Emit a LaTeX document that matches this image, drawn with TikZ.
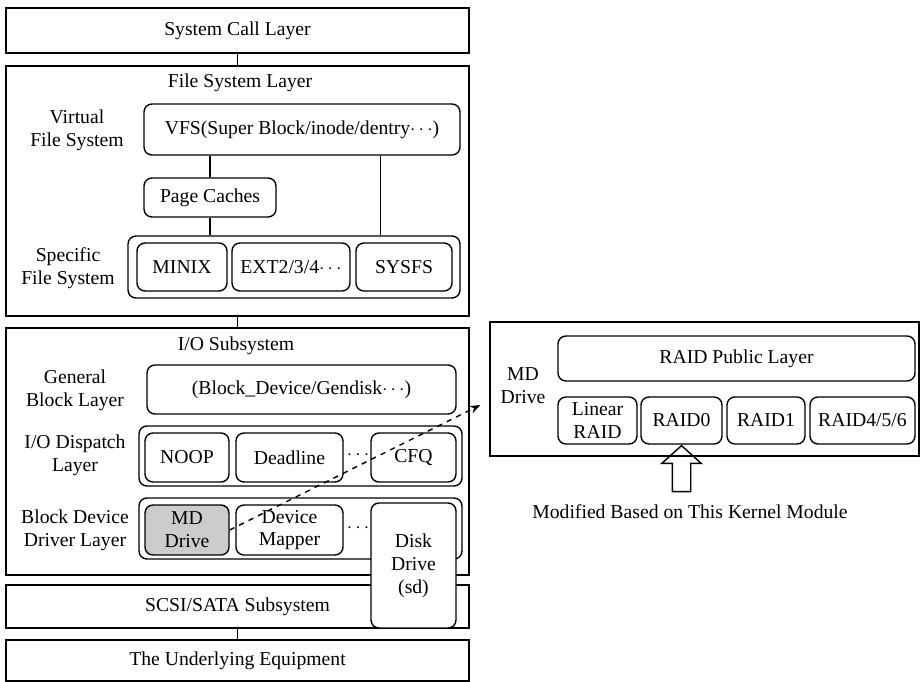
\documentclass[tikz,border=0pt]{standalone}
\usepackage{fontspec}
\setmainfont{Liberation Serif}
\usetikzlibrary{shapes.arrows,arrows.meta}

\begin{document}
\begin{tikzpicture}[x=0.02cm,y=-0.02cm,line width=0.8pt,
font=\fontsize{11.2}{13}\selectfont,
layer/.style={draw,rectangle,inner sep=0pt,minimum width=9.26cm},
unit/.style={draw,rounded corners=4.5pt,align=center,inner sep=0pt},
group/.style={draw,rounded corners=4.5pt,inner sep=0pt},
side/.style={align=center,inner sep=0pt}]
%\draw[help lines] (0,0) grid[step=50] (920,682);
\useasboundingbox (0,0) rectangle (920,682);

% system call + file system
\node (SysCall) [layer,minimum height=0.9cm] at (237.5,30.5) {System Call Layer};
\node (FsLayer) [layer,minimum height=5cm] at (237.5,191) {};
\node (FsTitle) [side] at (240,83) {File System Layer};
\node (VfsLabel) [side] at (77,130) {Virtual\\File System};
\node (Vfs) [unit,minimum width=6.32cm,minimum height=1.02cm] at (302,129.5) {VFS(Super Block/inode/dentry$\cdots$)};
\node (Cache) [unit,minimum width=2.64cm,minimum height=0.78cm] at (210,197.5) {Page Caches};
\node (SfsLabel) [side] at (68,268) {Specific\\File System};
\node (Sfs) [group,minimum width=6.64cm,minimum height=1.24cm] at (294,267) {};
\node (Minix) [unit,minimum width=1.8cm,minimum height=0.96cm] at (182,267) {MINIX};
\node (Ext) [unit,minimum width=2.36cm,minimum height=0.96cm] at (291,267) {EXT2/3/4$\cdots$};
\node (Sysfs) [unit,minimum width=1.92cm,minimum height=0.96cm] at (404,267) {SYSFS};

% i/o subsystem
\node (IoSub) [layer,minimum height=4.94cm] at (237.5,451.5) {};
\node (IoTitle) [side] at (236,346) {I/O Subsystem};
\node (GenLabel) [side] at (75,390) {General\\Block Layer};
\node (GenBlock) [unit,minimum width=6.18cm,minimum height=0.98cm] at (301.5,389.5) {(Block\_Device/Gendisk$\cdots$)};
\node (DispLabel) [side] at (75,455) {I/O Dispatch\\Layer};
\node (Dispatch) [group,minimum width=6.46cm,minimum height=1.2cm] at (300.5,456) {};
\node (Noop) [unit,minimum width=1.68cm,minimum height=0.98cm] at (187,457.5) {NOOP};
\node (Deadline) [unit,minimum width=2.14cm,minimum height=0.98cm] at (289.5,457.5) {Deadline};
\node (DispDots) [side] at (358,455) {$\cdots$};
\node (Cfq) [unit,minimum width=1.7cm,minimum height=0.98cm] at (413.5,457.5) {CFQ};
\node (DrvLabel) [side] at (75,530) {Block Device\\Driver Layer};
\node (Driver) [group,minimum width=6.46cm,minimum height=1.22cm] at (300.5,528.5) {};
\node (MdNode) [unit,fill=black!20,minimum width=1.68cm,minimum height=1cm] at (187,530) {MD\\Drive};
\node (DevMap) [unit,minimum width=2.14cm,minimum height=1cm] at (289.5,530) {Device\\Mapper};
\node (DrvDots) [side] at (358,528) {$\cdots$};

% bottom layers
\node (Scsi) [layer,minimum height=0.86cm] at (237.5,606.5) {SCSI/SATA Subsystem};
\node (Equip) [layer,minimum height=0.82cm] at (237.5,660.5) {The Underlying Equipment};
\node (Disk) [unit,fill=white,minimum width=1.7cm,minimum height=2.5cm] at (413.5,565.5) {Disk\\Drive\\(sd)};

% md drive module
\node (MdBox) [layer,minimum width=8.58cm,minimum height=2.68cm] at (704.5,389) {};
\node (MdLabel) [side] at (523,386) {MD\\Drive};
\node (Public) [unit,minimum width=7.14cm,minimum height=0.9cm] at (736.5,358.5) {RAID Public Layer};
\node (Linear) [unit,minimum width=1.58cm,minimum height=0.94cm] at (597.5,420.5) {Linear\\RAID};
\node (Raid0) [unit,minimum width=1.62cm,minimum height=0.94cm] at (681.5,420.5) {RAID0};
\node (Raid1) [unit,minimum width=1.56cm,minimum height=0.94cm] at (766,420.5) {RAID1};
\node (Raid456) [unit,minimum width=2.1cm,minimum height=0.94cm] at (862.5,420.5) {RAID4/5/6};
\node (UpArrow) [draw,single arrow,shape border rotate=90,inner sep=0.17cm,
  minimum height=0.92cm,single arrow head extend=0.21cm,
  single arrow tip angle=96,anchor=tip] at (Raid0.south) {};
\node (Note) [side] at (690,512) {Modified Based on This Kernel Module};

% connectors
\draw (SysCall) -- (FsLayer);
\draw (FsLayer) -- (IoSub);
\draw (Scsi) -- (Equip);
\draw (Cache.north) -- (Cache.north |- Vfs.south);
\draw (Cache.south) -- (Cache.south |- Sfs.north);
\draw ([xshift=-1.6cm]Vfs.south east) -- ([xshift=-1.6cm]Vfs.south east |- Sfs.north);
\draw [dashed,-{Stealth[length=6pt]}] (MdNode.east) -- ([xshift=-0.18cm,yshift=-0.32cm]MdBox.west);
\end{tikzpicture}
\end{document}
